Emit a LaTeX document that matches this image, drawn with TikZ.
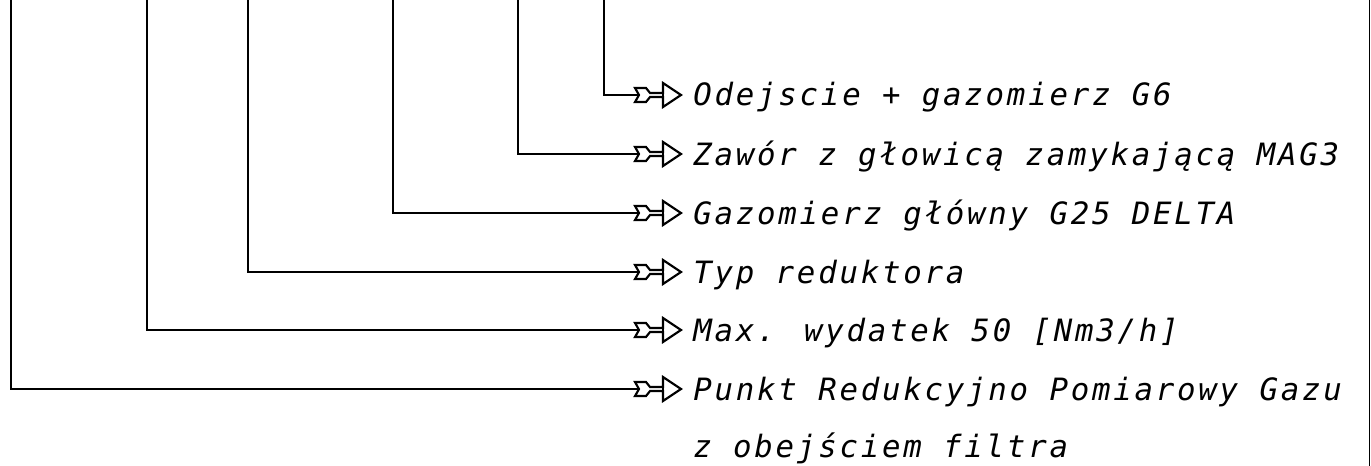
\documentclass[tikz,border=0pt]{standalone}
\usepackage{fontspec}
\newfontfamily\cadfont{DejaVu Sans Mono}[LetterSpace=9.0]

\begin{document}
\begin{tikzpicture}[
                x = 0.02cm, y = -0.02cm,
                leader/.style = {draw, line width = 1.3pt},
                txt/.style = {anchor = base west, inner sep = 0mm, font = \cadfont\itshape\fontsize{17.5pt}{20pt}\selectfont},
                fletch/.pic = {
                    \draw[line width = 1.2pt, line join = miter]
                        (0,-7) -- (11,-7) -- (15,-2) -- (28,-2) -- (28,-12) -- (46,0)
                        -- (28,12) -- (28,2) -- (15,2) -- (11,7) -- (0,7) -- (4,0) -- cycle;
                    \draw[line width = 1.2pt] (28,-2) -- (28,2);
                },
            ]
            \useasboundingbox (0,0) rectangle (1371,466);

            \coordinate (t1) at (604,0);
            \coordinate (t2) at (518,0);
            \coordinate (t3) at (393,0);
            \coordinate (t4) at (248,0);
            \coordinate (t5) at (147,0);
            \coordinate (t6) at (11,0);

            \coordinate (a1) at (639,95);
            \coordinate (a2) at (639,154);
            \coordinate (a3) at (639,213);
            \coordinate (a4) at (639,272);
            \coordinate (a5) at (639,330);
            \coordinate (a6) at (639,389);

            \node (odejscie) [txt] at (693,106) {Odejscie + gazomierz G6};
            \node (zawor) [txt] at (693,165) {Zawór z głowicą zamykającą MAG3};
            \node (gazomierz) [txt] at (693,224) {Gazomierz główny G25 DELTA};
            \node (typ) [txt] at (693,283) {Typ reduktora};
            \node (wydatek) [txt] at (693,341) {Max. wydatek 50 [Nm3/h]};
            \node (punkt) [txt] at (693,400) {Punkt Redukcyjno Pomiarowy Gazu};
            \node (filtr) [txt] at (693,457) {z obejściem filtra};

            \path[leader] (t1) |- (a1);
            \path[leader] (t2) |- (a2);
            \path[leader] (t3) |- (a3);
            \path[leader] (t4) |- (a4);
            \path[leader] (t5) |- (a5);
            \path[leader] (t6) |- (a6);

            \pic at (635,95) {fletch};
            \pic at (635,154) {fletch};
            \pic at (635,213) {fletch};
            \pic at (635,272) {fletch};
            \pic at (635,330) {fletch};
            \pic at (635,389) {fletch};

            % frame edge
            \draw[line width = 0.8pt] (1369.5,0) -- (1369.5,466);
        \end{tikzpicture}
\end{document}
